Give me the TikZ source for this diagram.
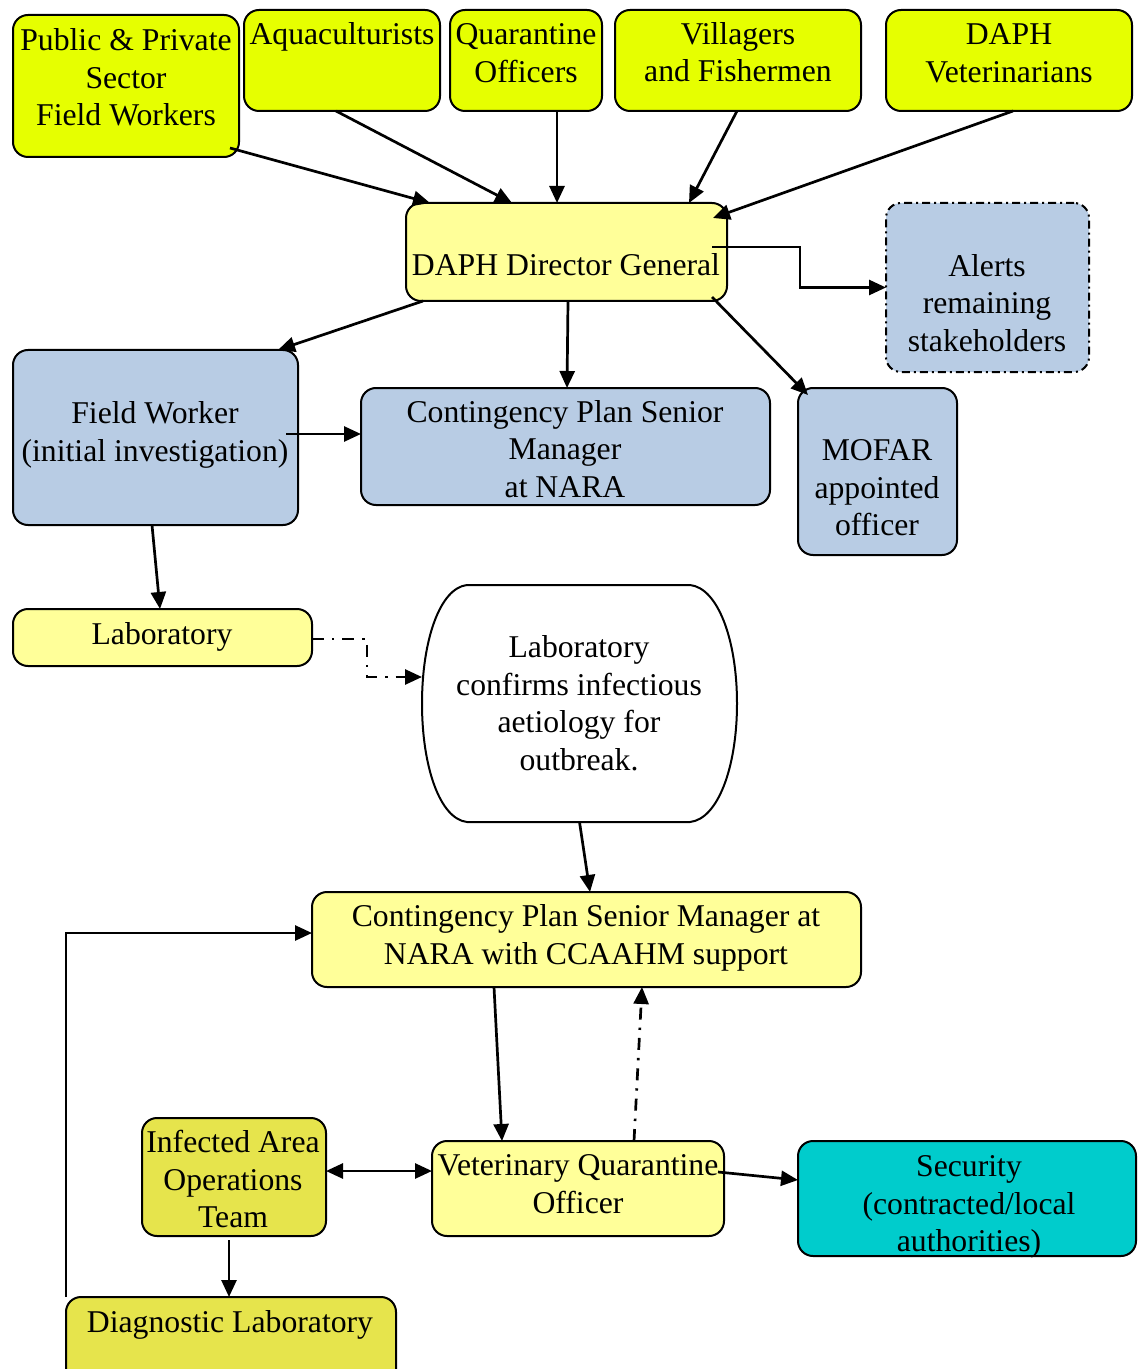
\documentclass[tikz,border=0pt]{standalone}
\usepackage{fontspec}
\setmainfont{Liberation Serif}
\usetikzlibrary{arrows.meta,calc}
\definecolor{topyellow}{RGB}{230,255,0}
\definecolor{paleyellow}{RGB}{255,255,153}
\definecolor{paleblue}{RGB}{184,204,228}
\definecolor{olive}{RGB}{230,228,76}
\definecolor{teal}{RGB}{0,204,204}
% \boxat{name}{x1}{y1}{x2}{y2}{style}: a box given by its corners (pixel grid)
\newcommand\boxat[6]{%
  \node[#6, minimum width={(#4-#2)*0.5pt}, minimum height={(#5-#3)*0.5pt}]
    (#1) at ({(#2+#4)/2},{(#3+#5)/2}) {};}
\begin{document}
\begin{tikzpicture}[x=0.5pt,y=-0.5pt,
  box/.style={draw, line width=1pt, rounded corners=7.5pt, inner sep=0pt, outer sep=0pt},
  bright/.style={box, fill=topyellow},
  pale/.style={box, fill=paleyellow},
  blue/.style={box, fill=paleblue},
  darky/.style={box, fill=olive},
  cyanbox/.style={box, fill=teal},
  txt/.style={align=center, inner sep=0pt, font=\fontsize{15.85}{18.75}\selectfont},
  tip/.tip={Triangle[length=8.5pt,width=7.5pt]},
  conn/.style={line width=1.35pt, -tip},
  dashdot/.style={dash pattern=on 6pt off 4pt on 1.2pt off 4pt},
]
\path[use as bounding box, clip] (0,0) rectangle (1137,1369);

% ---- boxes ----
\boxat{pub}{13}{15}{239}{157}{bright}
\boxat{aqua}{244}{10}{440}{111}{bright}
\boxat{quar}{450}{10}{602}{111}{bright}
\boxat{vill}{615}{10}{861}{111}{bright}
\boxat{vets}{886}{10}{1132}{111}{bright}
\boxat{dg}{406}{203}{727}{301}{pale}
\boxat{alerts}{886}{203}{1089}{372}{blue, dash pattern=on 4pt off 2pt on 1pt off 2pt}
\boxat{fw}{13}{350}{298}{525}{blue}
\boxat{cp}{361}{388}{770}{505}{blue}
\boxat{mofar}{798}{388}{957}{555}{blue}
\boxat{lab}{13}{609}{312}{666}{pale}
\boxat{conf}{422}{585}{737}{822}{inner sep=0pt, outer sep=0pt}
\draw[line width=1pt, fill=white]
  (467,585) -- (690,585)
  .. controls (718,588) and (737,640) .. (737,703.5)
  .. controls (737,767) and (718,819) .. (690,822)
  -- (467,822)
  .. controls (440,819) and (422,767) .. (422,703.5)
  .. controls (422,640) and (440,588) .. (467,585) -- cycle;
\boxat{cp2}{312}{892}{861}{987}{pale}
\boxat{inf}{142}{1118}{326}{1236}{darky}
\boxat{vqo}{432}{1141}{724}{1236}{pale}
\boxat{sec}{798}{1141}{1136}{1256}{cyanbox}
\boxat{diag}{66}{1297}{396}{1390}{darky}

% ---- texts ----
\node[txt] (pub-t) at (126,77.5) {Public \& Private\\Sector\\Field Workers};
\node[txt] (aqua-t) at (342,37) {Aquaculturists};
\node[txt] (quar-t) at (526,53) {Quarantine\\Officers};
\node[txt] (vill-t) at (738,52) {Villagers\\and Fishermen};
\node[txt] (vets-t) at (1009,53.5) {DAPH\\Veterinarians};
\node[txt] (dg-t) at (566,265) {DAPH Director General};
\node[txt] (alerts-t) at (987,303) {Alerts\\remaining\\stakeholders};
\node[txt] (fw-t) at (155,435) {Field Worker\\(initial investigation)};
\node[txt] (cp-t) at (565,449) {Contingency Plan Senior\\Manager\\at NARA};
\node[txt] (mofar-t) at (877,488) {MOFAR\\appointed\\officer};
\node[txt] (lab-t) at (162,637) {Laboratory};
\node[txt] (conf-t) at (579,703) {Laboratory\\confirms infectious\\aetiology for\\outbreak.};
\node[txt] (cp2-t) at (586,938) {Contingency Plan Senior Manager at\\NARA with CCAAHM support};
\node[txt] (inf-t) at (233,1179) {Infected Area\\Operations\\Team};
\node[txt] (vqo-t) at (578,1184) {Veterinary Quarantine\\Officer};
\node[txt] (sec-t) at (969,1207) {Security\\(contracted/local\\authorities)};
\node[txt] (diag-t) at (230,1325) {Diagnostic Laboratory};

% ---- connectors ----
\draw[conn] ($(pub.south east)+(-9,-9)$) -- ($(dg.north west)+(24,0)$);
\draw[conn] ($(aqua.south)+(-6,0)$) -- ($(dg.north west)+(106,0)$);
\draw[conn] ($(quar.south)+(31,0)$) -- ($(dg.north west)+(151,0)$);
\draw[conn] ($(vill.south)+(-1,0)$) -- ($(dg.north west)+(283,0)$);
\draw[conn] ($(vets.south)+(4,0)$) -- ($(dg.north east)+(-14,15)$);
\draw[conn] ($(dg.east)+(-15,-5)$) -- ++(88,0) |- (alerts.west);
\draw[conn] ($(dg.south west)+(17,0)$) -- ($(fw.north east)+(-20,0)$);
\draw[conn] ($(dg.south)+(1.5,0)$) -- ($(cp.north)+(1.5,0)$);
\draw[conn] ($(dg.south east)+(-15,-4)$) -- ($(mofar.north west)+(10,7)$);
\draw[conn] ($(fw.south)+(-3.5,0)$) -- ($(lab.north)+(-2.5,0)$);
\coordinate (fwout) at ($(fw.east)+(-12,-3.5)$);
\draw[conn] (fwout) -- (fwout -| cp.west);
\draw[conn, dashdot] ($(lab.east)+(0,1.5)$) -- ++(55,0) |- ($(conf.west)+(0,-26.5)$);
\draw[conn] (conf.south) -- ($(cp2.north)+(3.5,0)$);
\draw[conn] ($(cp2.south)+(-92.5,0)$) -- ($(vqo.north)+(-76,0)$);
\draw[conn, dashdot] ($(vqo.north)+(56,0)$) -- ($(cp2.south)+(55.5,0)$);
\draw[conn] (diag.north west) |- ($(cp2.west)+(0,-6.5)$);
\coordinate (infout) at ($(inf.east)+(0,-6)$);
\draw[conn, tip-tip] (infout) -- (infout -| vqo.west);
\draw[conn] ($(vqo.east)+(-6,-16.5)$) -- ($(sec.west)+(0,-18.5)$);
\draw[conn] ($(inf.south)+(-5,4)$) -- ($(diag.north)+(-2,0)$);
\end{tikzpicture}
\end{document}
